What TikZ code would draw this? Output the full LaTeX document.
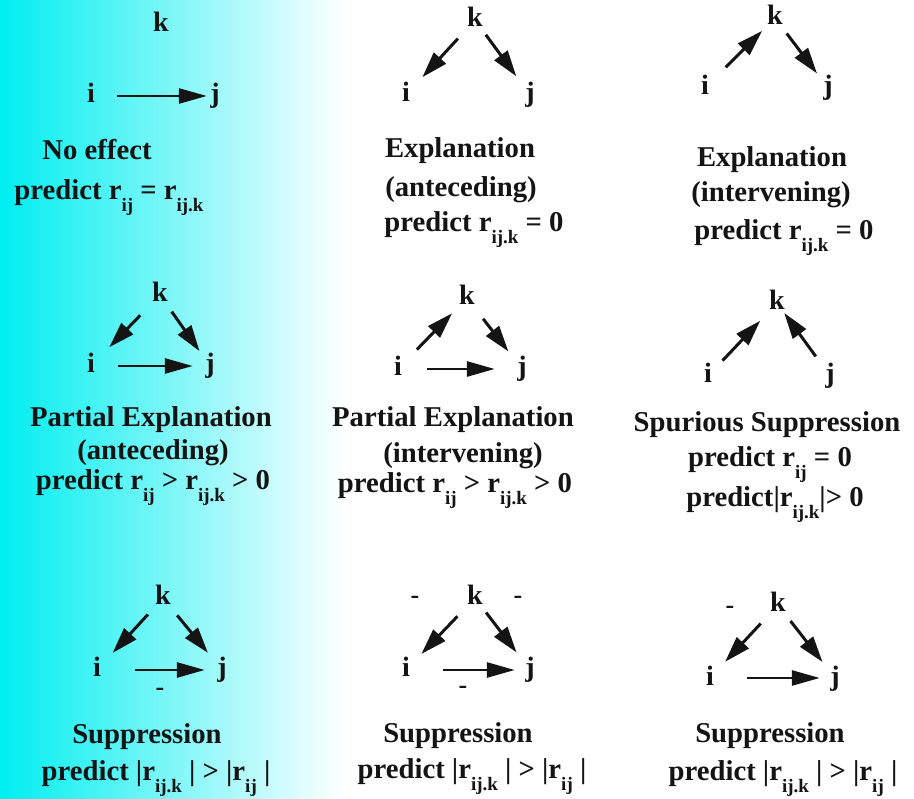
\documentclass[tikz,border=0pt]{standalone}
\usepackage{fontspec}
\setmainfont{Liberation Serif}
\usetikzlibrary{arrows.meta, positioning}
\definecolor{ink}{HTML}{141414}
\definecolor{cyanbg}{HTML}{00EEF0}
\newcommand{\rsub}[1]{r\raisebox{-12pt}{\fontsize{19}{19}\selectfont #1}}
\tikzset{
  var/.style={circle, inner sep=0pt, minimum size=30pt, text height=20pt, text depth=6pt,
              font=\fontsize{28}{30}\selectfont\bfseries, text=ink},
  lbl/.style={anchor=base, inner sep=0pt, font=\fontsize{28.7}{32}\selectfont\bfseries, text=ink},
  sgn/.style={inner sep=0pt, font=\fontsize{26}{28}\selectfont\bfseries, text=ink},
  ar/.style={-{Triangle[length=26pt, width=16pt]}, line width=3pt, draw=ink},
  har/.style={-{Triangle[length=28pt, width=15pt]}, line width=2.8pt, draw=ink},
}

\begin{document}
\begin{tikzpicture}[x=1pt, y=-1pt]
  \path[use as bounding box, fill=white] (0,0) rectangle (914,799);
  \shade[left color=cyanbg, right color=white] (0,0) rectangle (345,799);

  % row 1
  \node[var] (k1) at (161,25) {k};
  \node[var] (i1) at (91,96) {i};
  \node[var] (j1) at (215,96) {j};
  \draw[har, shorten <=11pt, shorten >=-7pt] (i1) -- (j1);
  \node[lbl] (n1a) at (97,160) {No effect};
  \node[lbl] (n1b) at (109,200) {predict \rsub{ij} = \rsub{ij.k}};

  \node[var] (k2) at (475,20) {k};
  \node[var] (i2) at (406,95) {i};
  \node[var] (j2) at (530,95) {j};
  \draw[ar, shorten <=10pt, shorten >=9pt] (k2) -- (i2);
  \draw[ar, shorten <=3pt, shorten >=8pt] (k2) -- (j2);
  \node[lbl] (n2a) at (460,158) {Explanation};
  \node[lbl] (n2b) at (461,197) {(anteceding)};
  \node[lbl] (n2c) at (474,232) {predict \rsub{ij.k} = 0};

  \node[var] (k3) at (775,18) {k};
  \node[var] (i3) at (705,88) {i};
  \node[var] (j3) at (828,88) {j};
  \draw[ar, shorten <=14pt, shorten >=3pt] (i3) -- (k3);
  \draw[ar, shorten <=4pt, shorten >=3pt] (k3) -- (j3);
  \node[lbl] (n3a) at (772,167) {Explanation};
  \node[lbl] (n3b) at (771,202) {(intervening)};
  \node[lbl] (n3c) at (784,240) {predict \rsub{ij.k} = 0};

  % row 2
  \node[var] (k4) at (160,295) {k};
  \node[var] (i4) at (91,366) {i};
  \node[var] (j4) at (210,366) {j};
  \draw[ar, shorten <=13pt, shorten >=11pt] (k4) -- (i4);
  \draw[ar, shorten <=5pt, shorten >=3pt] (k4) -- (j4);
  \draw[har, shorten <=12pt, shorten >=2pt] (i4) -- (j4);
  \node[lbl] (n4a) at (151,427) {Partial Explanation};
  \node[lbl] (n4b) at (153,460) {(anteceding)};
  \node[lbl] (n4c) at (153,490) {predict \rsub{ij} > \rsub{ij.k} > 0};

  \node[var] (k5) at (467,298) {k};
  \node[var] (i5) at (398,369) {i};
  \node[var] (j5) at (522,369) {j};
  \draw[ar, shorten <=12pt, shorten >=6pt] (i5) -- (k5);
  \draw[ar, shorten <=11pt, shorten >=7pt] (k5) -- (j5);
  \draw[har, shorten <=14pt, shorten >=12pt] (i5) -- (j5);
  \node[lbl] (n5a) at (453,427) {Partial Explanation};
  \node[lbl] (n5b) at (463,463) {(intervening)};
  \node[lbl] (n5c) at (455,493) {predict \rsub{ij} > \rsub{ij.k} > 0};

  \node[var] (k6) at (777,303) {k};
  \node[var] (i6) at (708,376) {i};
  \node[var] (j6) at (830,376) {j};
  \draw[ar, shorten <=6pt, shorten >=9pt] (i6) -- (k6);
  \draw[ar, shorten <=9pt, shorten >=-3pt] (j6) -- (k6);
  \node[lbl] (n6a) at (767,432) {Spurious Suppression};
  \node[lbl] (n6b) at (770,467) {predict \rsub{ij} = 0};
  \node[lbl] (n6c) at (775,507) {predict|\rsub{ij.k}|> 0};

  % row 3
  \node[var] (k7) at (163,598) {k};
  \node[var] (i7) at (97,670) {i};
  \node[var] (j7) at (222,670) {j};
  \draw[ar, shorten <=7pt, shorten >=8pt] (k7) -- (i7);
  \draw[ar, shorten <=7pt, shorten >=7pt] (k7) -- (j7);
  \draw[har, shorten <=23pt, shorten >=2pt] (i7) -- (j7);
  \node[sgn] (m7) at (160,692) {-};
  \node[lbl] (n7a) at (147,743) {Suppression};
  \node[lbl] (n7b) at (156,780) {predict |\rsub{ij.k} | > |\rsub{ij} |};

  \node[var] (k8) at (475,598) {k};
  \node[var] (i8) at (406,670) {i};
  \node[var] (j8) at (530,670) {j};
  \draw[ar, shorten <=10pt, shorten >=7pt] (k8) -- (i8);
  \draw[ar, shorten <=3pt, shorten >=7pt] (k8) -- (j8);
  \draw[har, shorten <=22pt, shorten >=0pt] (i8) -- (j8);
  \node[sgn] (m8a) at (415,600) {-};
  \node[sgn] (m8b) at (518,600) {-};
  \node[sgn] (m8c) at (463,690) {-};
  \node[lbl] (n8a) at (458,742) {Suppression};
  \node[lbl] (n8b) at (472,778) {predict |\rsub{ij.k} | > |\rsub{ij} |};

  \node[var] (k9) at (778,605) {k};
  \node[var] (i9) at (710,678) {i};
  \node[var] (j9) at (835,678) {j};
  \draw[ar, shorten <=10pt, shorten >=7pt] (k9) -- (i9);
  \draw[ar, shorten <=5pt, shorten >=5pt] (k9) -- (j9);
  \draw[har, shorten <=22pt, shorten >=0pt] (i9) -- (j9);
  \node[sgn] (m9) at (730,610) {-};
  \node[lbl] (n9a) at (770,742) {Suppression};
  \node[lbl] (n9b) at (783,780) {predict |\rsub{ij.k} | > |\rsub{ij} |};
\end{tikzpicture}
\end{document}
